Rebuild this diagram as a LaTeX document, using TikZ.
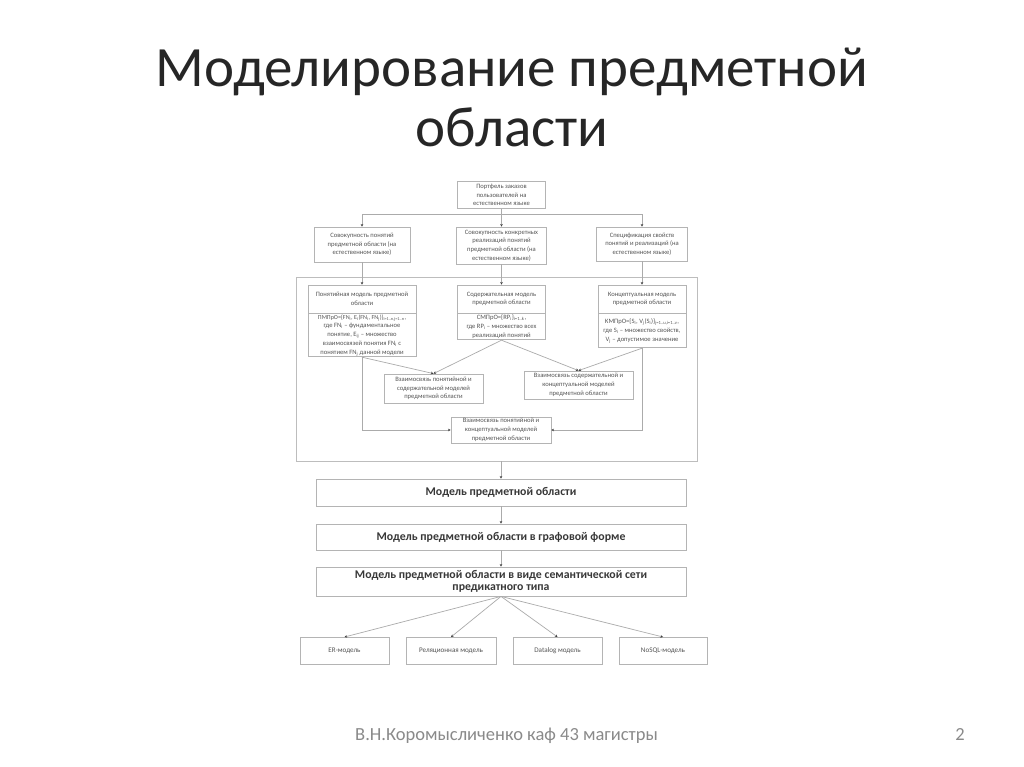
\documentclass[tikz,border=0pt]{standalone}
\usepackage{fontspec}
\setmainfont{Carlito}
\usetikzlibrary{arrows.meta}
\definecolor{linec}{HTML}{ABABAB}
\definecolor{boxc}{HTML}{B4B4B4}
\definecolor{contc}{HTML}{BDBDBD}
\definecolor{txtc}{HTML}{555555}
\definecolor{bigtxt}{HTML}{383838}
\definecolor{titlec}{HTML}{262626}
\definecolor{footc}{HTML}{8A8A8A}
\definecolor{tipc}{HTML}{404040}
\newcommand\lsub[1]{\textsubscript{#1}}
\tikzset{
  box/.style={draw=boxc,line width=0.8pt,fill=white,align=center,inner sep=0pt,text=txtc,
    font=\fontsize{6.6}{8.7}\selectfont},
  smallbox/.style={box,font=\fontsize{7.1}{8.7}\selectfont},
  bigbox/.style={draw=boxc,line width=0.8pt,fill=white,align=center,inner sep=0pt,text=bigtxt,
    font=\fontsize{11.8}{12.6}\selectfont\bfseries},
  container/.style={draw=contc,line width=0.8pt,inner sep=0pt},
  ln/.style={draw=linec,line width=0.7pt},
  arr/.style={-{Stealth[length=2.6pt,width=2.6pt,color=tipc]}},
  titlefont/.style={font=\fontsize{57}{60}\selectfont,text=titlec,inner sep=0pt},
  footfont/.style={font=\fontsize{18.5}{20}\selectfont,text=footc,inner sep=0pt}
}
\begin{document}
\begin{tikzpicture}[x=1pt,y=-1pt]
\useasboundingbox (0,0) rectangle (1024,767);
\fill[white] (0,0) rectangle (1024,767);

% title
\node[titlefont,anchor=base] (t1) at (512,87) {Моделирование предметной};
\node[titlefont,anchor=base] (t2) at (512,147) {области};

% container
\node[container,minimum width=401,minimum height=184] (cont) at (496.5,369) {};

% top
\node[box,minimum width=88,minimum height=27] (P) at (501.5,195) {Портфель заказов\\пользователей на\\естественном языке};

% row 1
\node[box,minimum width=96,minimum height=35] (S1) at (362,244.5) {Совокупность понятий\\предметной области (на\\естественном языке)};
\node[box,minimum width=90,minimum height=37] (S2) at (501.5,245.5) {Совокупность конкретных\\реализаций понятий\\предметной области (на\\естественном языке)};
\node[box,minimum width=91,minimum height=34] (S3) at (642,244) {Спецификация свойств\\понятий и реализаций (на\\естественном языке)};

% row 2
\node[box,minimum width=108,minimum height=28] (A1) at (362,299) {Понятийная модель предметной\\области};
\node[box,minimum width=108,minimum height=43,anchor=north] (A2) at (A1.south) {{\fontsize{6.1}{8.7}\selectfont ПМПрО=\{FN\lsub{i}, E\lsub{i}(FN\lsub{i}, FN\lsub{j})\}\lsub{i=1..n,j=1..n},}\\где FN\lsub{i} – фундаментальное\\понятие, E\lsub{ij} – множество\\взаимосвязей понятия FN\lsub{i} с\\понятием FN\lsub{j} данной модели};
\node[box,minimum width=88,minimum height=28] (B1) at (501.5,299) {Содержательная модель\\предметной области};
\node[box,minimum width=88,minimum height=26,anchor=north] (B2) at (B1.south) {СМПрО=\{RP\lsub{i}\}\lsub{i=1..k},\\где RP\lsub{i} – множество всех\\реализаций понятий};
\node[box,minimum width=88,minimum height=28] (C1) at (642,299) {Концептуальная модель\\предметной области};
\node[box,minimum width=88,minimum height=34,anchor=north] (C2) at (C1.south) {КМПрО=\{S\lsub{i}, V\lsub{j}(S\lsub{i})\}\lsub{j=1..u,i=1..v},\\где S\lsub{i} – множество свойств,\\V\lsub{j} – допустимое значение};

% relations
\node[box,minimum width=99,minimum height=29] (D) at (433.5,388.5) {Взаимосвязь понятийной и\\содержательной моделей\\предметной области};
\node[box,minimum width=109,minimum height=28] (E) at (578.5,385) {Взаимосвязь содержательной и\\концептуальной моделей\\предметной области};
\node[box,minimum width=100,minimum height=26] (F) at (501,430) {Взаимосвязь понятийной и\\концептуальной моделей\\предметной области};

% big boxes
\node[bigbox,minimum width=370,minimum height=27] (M1) at (501,492.5) {Модель предметной области};
\node[bigbox,minimum width=370,minimum height=26] (M2) at (501,537) {Модель предметной области в графовой форме};
\node[bigbox,minimum width=370,minimum height=29] (M3) at (501,581.5) {Модель предметной области в виде семантической сети\\предикатного типа};

% bottom row
\node[smallbox,minimum width=89,minimum height=27,anchor=north] (ER) at (344.5,637) {ER-модель};
\node[smallbox,minimum width=90,minimum height=27,anchor=north] (REL) at (451,637) {Реляционная модель};
\node[smallbox,minimum width=89,minimum height=27,anchor=north] (DL) at (557.5,637) {Datalog модель};
\node[smallbox,minimum width=88,minimum height=27,anchor=north] (NS) at (663,637) {NoSQL-модель};

% footer
\node[footfont,anchor=base west] (foot) at (355,740) {В.Н.Коромысличенко каф 43 магистры};
\node[footfont,anchor=base east] (pg) at (965,740) {2};

% connectors
\coordinate (J) at (501.5,214);
\draw[ln] (P.south) -- (J);
\draw[ln,arr] (J) -| (S1.north);
\draw[ln,arr] (J) -- (S2.north);
\draw[ln,arr] (J) -| (S3.north);
\draw[ln,arr] (S1.south) -- (A1.north);
\draw[ln,arr] (S2.south) -- (B1.north);
\draw[ln,arr] (S3.south) -- (C1.north);
\draw[ln,arr] (A2.south) -- (D.north);
\draw[ln,arr] (B2.south) -- (D.north);
\draw[ln,arr] (B2.south) -- (E.north);
\draw[ln,arr] (C2.south) -- (E.north);
\draw[ln,arr] (A2.south) |- (F.west);
\draw[ln,arr] (C2.south) |- (F.east);
\draw[ln,arr] (M1.north |- cont.south) -- (M1.north);
\draw[ln,arr] (M1.south) -- (M2.north);
\draw[ln,arr] (M2.south) -- (M3.north);
\draw[ln,arr] (M3.south) -- (ER.north);
\draw[ln,arr] (M3.south) -- (REL.north);
\draw[ln,arr] (M3.south) -- (DL.north);
\draw[ln,arr] (M3.south) -- (NS.north);
\end{tikzpicture}
\end{document}
